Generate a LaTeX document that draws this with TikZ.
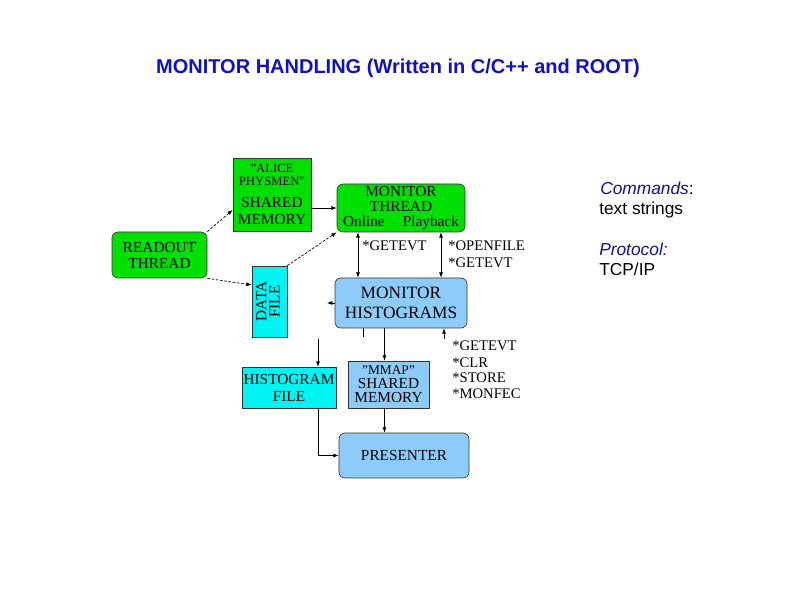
\documentclass[tikz,border=0pt]{standalone}
\usepackage{fontspec}
\usepackage{graphicx}
\setmainfont{Liberation Serif}
\newfontfamily\notefont{Liberation Sans}
\usetikzlibrary{arrows.meta,calc}
\definecolor{boxgreen}{HTML}{00E000}
\definecolor{boxblue}{HTML}{8CCBFA}
\definecolor{boxcyan}{HTML}{00F4F4}
\definecolor{titleblue}{HTML}{1010C8}
\definecolor{noteblue}{HTML}{10109A}

\begin{document}
\begin{tikzpicture}[x=0.75pt,y=-0.75pt,>={Latex[length=4pt,width=3pt]},
 unit/.style={draw=black!80,line width=0.5pt,inner sep=0pt,align=center,font=\fontsize{11.5}{13}\selectfont},
 thread/.style={unit,rounded corners=4.5pt},
 arr/.style={->,line width=0.5pt},
 dasharr/.style={->,line width=0.5pt,dash pattern=on 2pt off 1.2pt},
 cmd/.style={inner sep=0pt,anchor=base west,font=\fontsize{11}{12}\selectfont},
 note/.style={inner sep=0pt,anchor=base west,font=\notefont\fontsize{13}{15}\selectfont}]
\useasboundingbox (0,0) rectangle (794,595);
\node[font=\notefont\bfseries\fontsize{15}{18}\selectfont,text=titleblue] (title) at (398,68) {MONITOR HANDLING (Written in C/C++ and ROOT)};
% acquisition side
\node[unit,fill=boxgreen,minimum width=58.5pt,minimum height=54.75pt] (shmem) at (272,194.5)
 {\fontsize{9.5}{7}\selectfont"ALICE\\[-3pt]\fontsize{9.5}{7}\selectfont PHYSMEN"\\[3pt]SHARED\\MEMORY};
\node[thread,fill=boxgreen,minimum width=71.25pt,minimum height=34.5pt,font=\fontsize{11.5}{12}\selectfont] (readout) at (159.5,255) {READOUT\\THREAD};
\node[unit,fill=boxcyan,minimum width=26.25pt,minimum height=53.25pt] (datafile) at (269.5,301.5)
 {\rotatebox{90}{\begin{tabular}{@{}c@{}}DATA\\[-3pt]FILE\end{tabular}}};
% monitor side
\node[thread,fill=boxgreen,minimum width=96pt,minimum height=36pt,font=\fontsize{11.5}{11}\selectfont] (monthread) at (401,208)
 {MONITOR\\THREAD\\Online\hspace{13.5pt}Playback};
\node[thread,fill=boxblue,minimum width=99pt,minimum height=37.5pt,font=\fontsize{13}{15}\selectfont] (monhist) at (401,303) {MONITOR\\HISTOGRAMS};
\node[unit,fill=boxcyan,minimum width=70.5pt,minimum height=30.75pt,font=\fontsize{11.5}{12.75}\selectfont] (histfile) at (289,387.5) {HISTOGRAM\\FILE};
\node[unit,fill=boxblue,minimum width=60.75pt,minimum height=35.25pt,font=\fontsize{11.5}{10.5}\selectfont] (mmap) at (388.5,384.5)
 {\fontsize{10}{10}\selectfont"MMAP"\\SHARED\\MEMORY};
\node[thread,fill=boxblue,minimum width=97.5pt,minimum height=33.75pt] (presenter) at (404,455.5) {PRESENTER};
% command labels
\node[cmd] (getevta) at (362,251) {*GETEVT};
\node[cmd] (openfile) at (448,251) {*OPENFILE};
\node[cmd] (getevtb) at (448,268) {*GETEVT};
\node[cmd] (cmdlist) at (452,351) {*GETEVT};
\node[cmd] (clr) at (452,368) {*CLR};
\node[cmd] (store) at (452,383) {*STORE};
\node[cmd] (monfec) at (452,399) {*MONFEC};
% notes
\node[note] (cmdhead) at (600,195) {\textcolor{noteblue}{\itshape Commands}:};
\node[note] (cmdtext) at (599,215) {text strings};
\node[note] (prothead) at (599,256) {\textcolor{noteblue}{\itshape Protocol:}};
\node[note] (prottext) at (599,276) {TCP/IP};
% connectors
\coordinate (dfstub) at (327,303);
\coordinate (hfstub) at (363,337);
\coordinate (hftop) at (318,339);
\coordinate (cmdstub) at (444,339);
\draw[dasharr] (readout.north east) -- ([yshift=-11.6pt]shmem.west);
\draw[dasharr] (readout.south east) -- ([yshift=12.4pt]datafile.west);
\draw[arr] (shmem.east |- monthread.west) -- (monthread.west);
\draw[dasharr] (datafile.north east) -- (monthread.south west);
\foreach \dx in {-32.25,30} \draw[<->,line width=0.5pt] ([xshift=\dx pt]monthread.south) -- ([xshift=\dx pt]monhist.north);
\draw[arr] (monhist.west) -- (dfstub);
\draw[line width=0.5pt] (monhist.south -| hfstub) -- (hfstub);
\draw[arr] (hftop) -- (hftop |- histfile.north);
\draw[arr] (hftop |- histfile.south) |- (presenter.west);
\draw[arr] ([xshift=-3pt]mmap.north |- monhist.south) -- ([xshift=-3pt]mmap.north);
\draw[arr] ([xshift=-3pt]mmap.south) -- ([xshift=-3pt]mmap.south |- presenter.north);
\draw[arr] (cmdstub) -- (cmdstub |- monhist.south);
\end{tikzpicture}
\end{document}
